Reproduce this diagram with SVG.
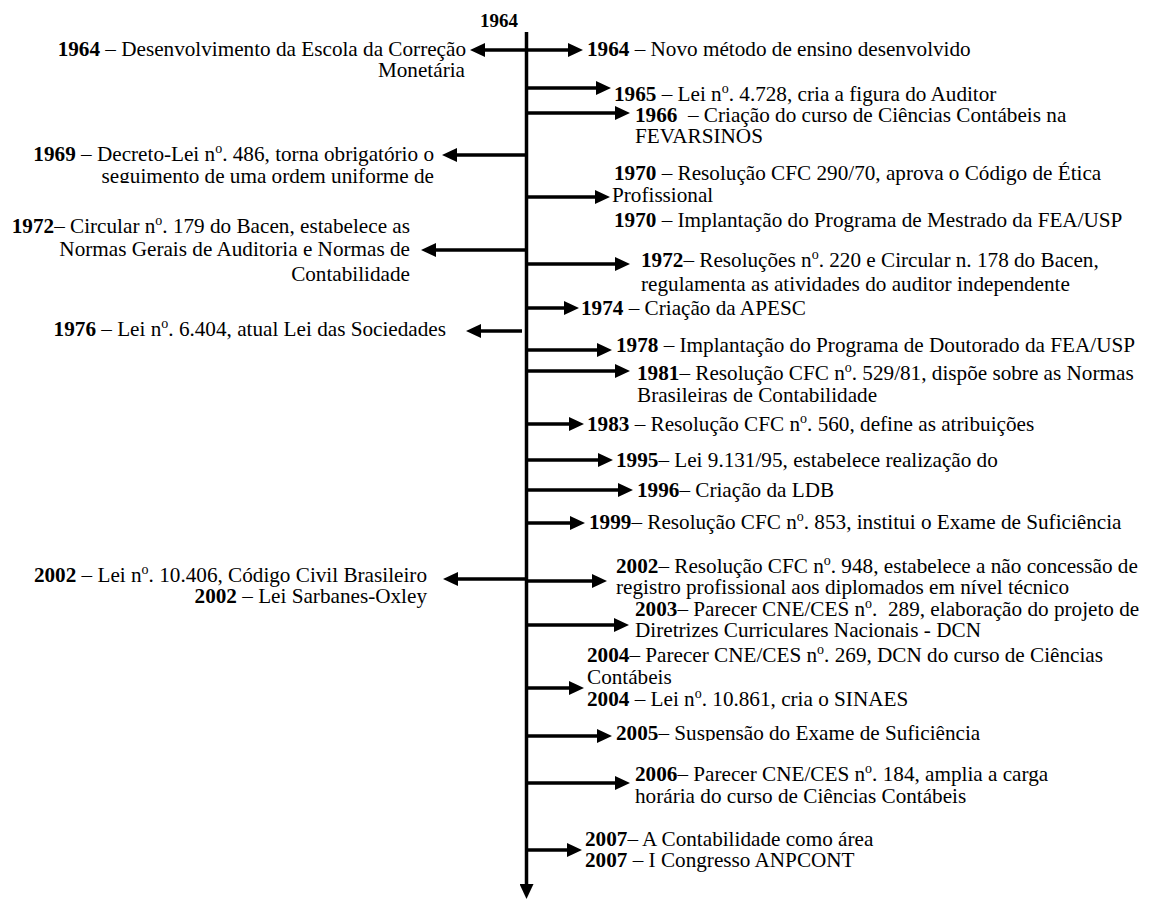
<svg xmlns="http://www.w3.org/2000/svg" width="1153" height="900" viewBox="0 0 1153 900">
  <style>
    text { font-family: "Liberation Serif", "Times New Roman", serif; font-size: 21.2px; fill: #000; }
    .b { font-weight: bold; }
    .top { font-size: 19px; font-weight: bold; }
    .end { text-anchor: end; }
    .pre { white-space: pre; }
    .sup { font-size: 14px; }
    .axis { stroke: #000; stroke-width: 3.5; fill: none; }
    .arm { stroke: #000; stroke-width: 3.5; fill: none; marker-end: url(#head); }
  </style>
  <defs>
    <marker id="head" markerUnits="userSpaceOnUse" markerWidth="15" markerHeight="14" refX="2" refY="7" orient="auto-start-reverse" viewBox="0 0 15 14">
      <path d="M0,0 L15,7 L0,14 Z" fill="#000"/>
    </marker>
    <clipPath id="clip1969"><rect x="0" y="140" width="520" height="43"/></clipPath>
    <clipPath id="clip2005"><rect x="600" y="715" width="553" height="26"/></clipPath>
  </defs>

  <!-- timeline axis and branch arrows (line ends 13px short of each arrow tip) -->
  <g id="connectors">
    <line class="axis" x1="526.5" y1="32" x2="526.5" y2="886" marker-end="url(#head)"/>
    <line class="arm" x1="483" y1="50" x2="570" y2="50" marker-start="url(#head)"/>
    <line class="arm" x1="526.5" y1="88" x2="598" y2="88"/>
    <line class="arm" x1="526.5" y1="113" x2="617" y2="113"/>
    <line class="arm" x1="526.5" y1="155" x2="455" y2="155"/>
    <line class="arm" x1="526.5" y1="197" x2="597" y2="197"/>
    <line class="arm" x1="526.5" y1="250" x2="434" y2="250"/>
    <line class="arm" x1="526.5" y1="264" x2="617" y2="264"/>
    <line class="arm" x1="526.5" y1="308" x2="566" y2="308"/>
    <line class="arm" x1="522" y1="331" x2="479" y2="331"/>
    <line class="arm" x1="526.5" y1="350" x2="599" y2="350"/>
    <line class="arm" x1="526.5" y1="371" x2="617" y2="371"/>
    <line class="arm" x1="526.5" y1="424" x2="571" y2="424"/>
    <line class="arm" x1="526.5" y1="460" x2="600" y2="460"/>
    <line class="arm" x1="526.5" y1="490" x2="620" y2="490"/>
    <line class="arm" x1="526.5" y1="523" x2="572" y2="523"/>
    <line class="arm" x1="526.5" y1="579" x2="456" y2="579"/>
    <line class="arm" x1="526.5" y1="581" x2="594" y2="581"/>
    <line class="arm" x1="526.5" y1="625" x2="616" y2="625"/>
    <line class="arm" x1="526.5" y1="688" x2="571" y2="688"/>
    <line class="arm" x1="526.5" y1="736" x2="599" y2="736"/>
    <line class="arm" x1="526.5" y1="783" x2="617" y2="783"/>
    <line class="arm" x1="526.5" y1="850" x2="569" y2="850"/>
  </g>

  <g id="start-label">
    <text class="top" x="480" y="27">1964</text>
  </g>

  <!-- left-hand events -->
  <g id="left-1964">
    <text class="end" x="466" y="56"><tspan class="b">1964</tspan> – Desenvolvimento da Escola da Correção</text>
    <text class="end" x="465" y="77">Monetária</text>
  </g>
  <g id="left-1969" clip-path="url(#clip1969)">
    <text class="end" x="434" y="161"><tspan class="b">1969</tspan> – Decreto-Lei n<tspan class="sup" dy="-8">o</tspan><tspan dy="8">. 486, torna obrigatório o</tspan></text>
    <text class="end" x="434" y="183">seguimento de uma ordem uniforme de</text>
  </g>
  <g id="left-1972">
    <text class="end" x="410" y="233"><tspan class="b">1972</tspan>– Circular n<tspan class="sup" dy="-8">o</tspan><tspan dy="8">. 179 do Bacen, estabelece as</tspan></text>
    <text class="end" x="410" y="256">Normas Gerais de Auditoria e Normas de</text>
    <text class="end" x="410" y="281">Contabilidade</text>
  </g>
  <g id="left-1976">
    <text class="end" x="446" y="336"><tspan class="b">1976</tspan> – Lei n<tspan class="sup" dy="-8">o</tspan><tspan dy="8">. 6.404, atual Lei das Sociedades</tspan></text>
  </g>
  <g id="left-2002">
    <text class="end" x="427" y="582"><tspan class="b">2002</tspan> – Lei n<tspan class="sup" dy="-8">o</tspan><tspan dy="8">. 10.406, Código Civil Brasileiro</tspan></text>
    <text class="end" x="427" y="603"><tspan class="b">2002</tspan> – Lei Sarbanes-Oxley</text>
  </g>

  <!-- right-hand events -->
  <g id="right-1964">
    <text x="587" y="56"><tspan class="b">1964</tspan> – Novo método de ensino desenvolvido</text>
  </g>
  <g id="right-1965">
    <text x="614" y="101"><tspan class="b">1965</tspan> – Lei n<tspan class="sup" dy="-8">o</tspan><tspan dy="8">. 4.728, cria a figura do Auditor</tspan></text>
  </g>
  <g id="right-1966">
    <text class="pre" x="635" y="122"><tspan class="b">1966</tspan>  – Criação do curso de Ciências Contábeis na</text>
    <text x="635" y="143">FEVARSINOS</text>
  </g>
  <g id="right-1970">
    <text x="614" y="180"><tspan class="b">1970</tspan> – Resolução CFC 290/70, aprova o Código de Ética</text>
    <text x="612" y="202">Profissional</text>
    <text x="614" y="227"><tspan class="b">1970</tspan> – Implantação do Programa de Mestrado da FEA/USP</text>
  </g>
  <g id="right-1972">
    <text x="641" y="267"><tspan class="b">1972</tspan>– Resoluções n<tspan class="sup" dy="-8">o</tspan><tspan dy="8">. 220 e Circular n. 178 do Bacen,</tspan></text>
    <text x="641" y="291">regulamenta as atividades do auditor independente</text>
  </g>
  <g id="right-1974">
    <text x="581" y="315"><tspan class="b">1974</tspan> – Criação da APESC</text>
  </g>
  <g id="right-1978">
    <text x="616" y="352"><tspan class="b">1978</tspan> – Implantação do Programa de Doutorado da FEA/USP</text>
  </g>
  <g id="right-1981">
    <text x="637" y="380"><tspan class="b">1981</tspan>– Resolução CFC n<tspan class="sup" dy="-8">o</tspan><tspan dy="8">. 529/81, dispõe sobre as Normas</tspan></text>
    <text x="637" y="402">Brasileiras de Contabilidade</text>
  </g>
  <g id="right-1983">
    <text x="587" y="431"><tspan class="b">1983</tspan> – Resolução CFC n<tspan class="sup" dy="-8">o</tspan><tspan dy="8">. 560, define as atribuições</tspan></text>
  </g>
  <g id="right-1995">
    <text x="616" y="467"><tspan class="b">1995</tspan>– Lei 9.131/95, estabelece realização do</text>
  </g>
  <g id="right-1996">
    <text x="637" y="497"><tspan class="b">1996</tspan>– Criação da LDB</text>
  </g>
  <g id="right-1999">
    <text x="589" y="529"><tspan class="b">1999</tspan>– Resolução CFC n<tspan class="sup" dy="-8">o</tspan><tspan dy="8">. 853, institui o Exame de Suficiência</tspan></text>
  </g>
  <g id="right-2002">
    <text x="616" y="573"><tspan class="b">2002</tspan>– Resolução CFC n<tspan class="sup" dy="-8">o</tspan><tspan dy="8">. 948, estabelece a não concessão de</tspan></text>
    <text x="616" y="594">registro profissional aos diplomados em nível técnico</text>
  </g>
  <g id="right-2003">
    <text class="pre" x="635" y="616"><tspan class="b">2003</tspan>– Parecer CNE/CES n<tspan class="sup" dy="-8">o</tspan><tspan dy="8">.  289, elaboração do projeto de</tspan></text>
    <text x="635" y="637">Diretrizes Curriculares Nacionais - DCN</text>
  </g>
  <g id="right-2004">
    <text x="587" y="662"><tspan class="b">2004</tspan>– Parecer CNE/CES n<tspan class="sup" dy="-8">o</tspan><tspan dy="8">. 269, DCN do curso de Ciências</tspan></text>
    <text x="587" y="684">Contábeis</text>
    <text x="587" y="706"><tspan class="b">2004</tspan> – Lei n<tspan class="sup" dy="-8">o</tspan><tspan dy="8">. 10.861, cria o SINAES</tspan></text>
  </g>
  <g id="right-2005" clip-path="url(#clip2005)">
    <text x="616" y="740"><tspan class="b">2005</tspan>– Suspensão do Exame de Suficiência</text>
  </g>
  <g id="right-2006">
    <text x="635" y="781"><tspan class="b">2006</tspan>– Parecer CNE/CES n<tspan class="sup" dy="-8">o</tspan><tspan dy="8">. 184, amplia a carga</tspan></text>
    <text x="635" y="803">horária do curso de Ciências Contábeis</text>
  </g>
  <g id="right-2007">
    <text x="585" y="846"><tspan class="b">2007</tspan>– A Contabilidade como área</text>
    <text x="585" y="867"><tspan class="b">2007</tspan> – I Congresso ANPCONT</text>
  </g>
</svg>
